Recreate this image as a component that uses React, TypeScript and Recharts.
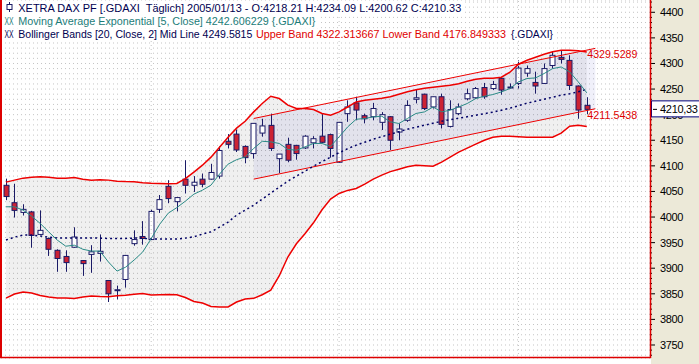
import {
  Area,
  Bar,
  CartesianGrid,
  ComposedChart,
  Line,
  ReferenceDot,
  ReferenceLine,
  XAxis,
  YAxis,
} from 'recharts';

// XETRA DAX daily, 2004/10/07 .. 2005/01/13
const dates = [
  '2004-10-07', '2004-10-08', '2004-10-11', '2004-10-12', '2004-10-13', '2004-10-14', '2004-10-15',
  '2004-10-18', '2004-10-19', '2004-10-20', '2004-10-21', '2004-10-22', '2004-10-25', '2004-10-26',
  '2004-10-27', '2004-10-28', '2004-10-29',
  '2004-11-01', '2004-11-02', '2004-11-03', '2004-11-04', '2004-11-05', '2004-11-08', '2004-11-09',
  '2004-11-10', '2004-11-11', '2004-11-12', '2004-11-15', '2004-11-16', '2004-11-17', '2004-11-18',
  '2004-11-19', '2004-11-22', '2004-11-23', '2004-11-24', '2004-11-25', '2004-11-26', '2004-11-29',
  '2004-11-30',
  '2004-12-01', '2004-12-02', '2004-12-03', '2004-12-06', '2004-12-07', '2004-12-08', '2004-12-09',
  '2004-12-10', '2004-12-13', '2004-12-14', '2004-12-15', '2004-12-16', '2004-12-17', '2004-12-20',
  '2004-12-21', '2004-12-22', '2004-12-23', '2004-12-27', '2004-12-28', '2004-12-29', '2004-12-30',
  '2005-01-03', '2005-01-04', '2005-01-05', '2005-01-06', '2005-01-07', '2005-01-10', '2005-01-11',
  '2005-01-12', '2005-01-13',
];

const opens = [
  4062, 4028, 4009, 4010, 3966, 3958, 3935, 3923, 3941, 3915,
  3927, 3929, 3876, 3857, 3878, 3948, 3962, 3956, 4015, 4060,
  4030, 4074, 4062, 4074, 4074, 4080, 4148, 4162, 4138, 4124,
  4164, 4179, 4114, 4142, 4140, 4135, 4145, 4158, 4161, 4107,
  4202, 4223, 4198, 4196, 4185, 4196, 4166, 4189, 4230, 4240,
  4215, 4235, 4177, 4202, 4231, 4233, 4253, 4251, 4271, 4252,
  4261, 4281, 4263, 4261, 4296, 4312, 4306, 4256, 4218.21,
];
const highs = [
  4075, 4065, 4025, 4012, 4013, 3960, 3937, 3935, 3980, 3916,
  3945, 3966, 3877, 3866, 3926, 3974, 3992, 4015, 4043, 4072,
  4039, 4111, 4080, 4085, 4104, 4138, 4162, 4171, 4140, 4183,
  4192, 4202, 4123, 4155, 4141, 4160, 4158, 4201, 4163, 4186,
  4228, 4235, 4202, 4223, 4205, 4197, 4183, 4228, 4249, 4241,
  4235, 4241, 4228, 4222, 4251, 4254, 4262, 4266, 4272, 4261,
  4306, 4296, 4284, 4300, 4324, 4326, 4316, 4257, 4234.09,
];
const lows = [
  4033, 3999, 4003, 3940, 3965, 3924, 3893, 3893, 3940, 3885,
  3891, 3913, 3834, 3839, 3862, 3944, 3946, 3955, 4008, 4027,
  4011, 4046, 4049, 4058, 4073, 4075, 4134, 4127, 4105, 4114,
  4157, 4129, 4086, 4107, 4112, 4133, 4134, 4145, 4116, 4106,
  4186, 4189, 4183, 4189, 4170, 4131, 4150, 4186, 4222, 4209,
  4212, 4173, 4175, 4199, 4228, 4231, 4231, 4248, 4239, 4251,
  4251, 4274, 4241, 4260, 4290, 4300, 4248, 4192, 4200.62,
];
const closes = [
  4040, 4013, 4015, 3964, 3974, 3937, 3919, 3911, 3961, 3909,
  3932, 3933, 3850, 3858, 3925, 3956, 3958, 4011, 4034, 4036,
  4038, 4062, 4068, 4064, 4087, 4130, 4142, 4131, 4116, 4183,
  4178, 4134, 4123, 4111, 4124, 4158, 4153, 4146, 4134, 4185,
  4215, 4209, 4192, 4212, 4200, 4150, 4172, 4218, 4233, 4212,
  4235, 4181, 4210, 4215, 4241, 4251, 4235, 4259, 4248, 4254,
  4291, 4290, 4256, 4290, 4316, 4308, 4257, 4209, 4210.33,
];

// indicator values
const ema5 = [
  4020, 4020, 4013.5, 4001.8, 3987.5, 3971, 3955, 3943, 3945, 3937,
  3933.5, 3933.5, 3912, 3894.4, 3902, 3916, 3931.5, 3958, 3986, 4007.6,
  4018.4, 4031, 4044.7, 4052.5, 4062.3, 4083.8, 4103.3, 4112, 4117.5, 4134,
  4148, 4146.8, 4143.7, 4132, 4130.6, 4137, 4143.7, 4143.7, 4138, 4156.6,
  4176, 4191, 4192.5, 4195.6, 4197, 4186, 4182.7, 4192.5, 4202.3, 4205.4,
  4215, 4205.4, 4208.7, 4215, 4221.8, 4231.5, 4236, 4239.3, 4244.4, 4251,
  4264, 4270.6, 4271.8, 4280.3, 4290, 4293.2, 4283.5, 4264, 4242.61,
];
const bbMid = [
  3955, 3960.8, 3964.7, 3964.7, 3962.8, 3960.8, 3958.8, 3958.8, 3958.8, 3958.8,
  3958.8, 3958.8, 3958.2, 3958.2, 3958.2, 3958.8, 3958.8, 3956.9, 3956.9, 3956.9,
  3956.9, 3958.8, 3961.4, 3966.7, 3971, 3980.3, 3990, 4003.7, 4013.5, 4023.3,
  4035, 4046.7, 4058.4, 4070, 4080, 4089.6, 4099.4, 4108.2, 4117, 4125.7,
  4133.6, 4140.4, 4146.2, 4152.1, 4157, 4161.9, 4166.7, 4171.6, 4175.5, 4179.4,
  4183.3, 4187.2, 4190.2, 4193.1, 4196, 4198.9, 4201.9, 4204.8, 4208.7, 4212.6,
  4217.5, 4222.4, 4226.3, 4230.2, 4234.1, 4238, 4240.9, 4244.8, 4249.58,
];
const bbUpper = [
  4068.2, 4072.1, 4076, 4077.9, 4078.9, 4077.9, 4076, 4076, 4077, 4074,
  4072.1, 4073, 4072.1, 4070.1, 4069.2, 4068.8, 4067.2, 4066.2, 4065.6, 4065.2,
  4065.6, 4075, 4087.7, 4101.3, 4117, 4136.5, 4156, 4173.6, 4187.2, 4205.4,
  4221.8, 4236, 4231.5, 4218.5, 4212, 4212, 4210.1, 4202.3, 4198.9, 4205.4,
  4215, 4224.9, 4228.2, 4230.2, 4232.1, 4235.1, 4239.9, 4244.8, 4248.7, 4251.6,
  4253.6, 4255.6, 4257.5, 4260.4, 4265.3, 4269.2, 4271.2, 4271.2, 4273.1, 4282.9,
  4298.5, 4306.3, 4312.2, 4318, 4322.9, 4325.8, 4325.8, 4324.8, 4322.31,
];
const bbLower = [
  3841.7, 3849.5, 3853.4, 3851.5, 3846.6, 3843.7, 3841.7, 3841.7, 3840.7, 3843.7,
  3845.6, 3844.6, 3844.4, 3846.4, 3847.4, 3849, 3850.5, 3847.6, 3848.2, 3848.6,
  3848.2, 3842.7, 3835.1, 3832, 3825.3, 3824.2, 3824.2, 3833.9, 3839.8, 3841.1,
  3848.2, 3857.3, 3885.3, 3921.8, 3947.7, 3967.2, 3988.7, 4014.1, 4035, 4046.1,
  4052, 4055.9, 4064.3, 4074, 4081.8, 4088.7, 4093.5, 4098.4, 4101.3, 4100.4,
  4099.4, 4107.2, 4117, 4126.7, 4134.5, 4142.3, 4150.1, 4156, 4158, 4158,
  4157, 4156, 4156, 4156, 4156, 4163.8, 4177.5, 4179.4, 4176.85,
];

// trend channel drawn by hand on the chart (bar index -> price)
const channelX = [29, 69];
const channelUpper = [4192.5, 4329.5289];
const channelLower = [4074, 4211.5438];

const priceTicks = [3750, 3800, 3850, 3900, 3950, 4000, 4050, 4100, 4150, 4200, 4250, 4300, 4350, 4400];
const monthStarts = ['2004-11-01', '2004-12-01', '2005-01-03'];
const lastClose = 4210.33;

const NAVY = '#1a1a66';
const CANDLE_RED = '#cc2233';
const BAND_RED = '#ee0000';
const EMA_TEAL = '#2a8a86';
const GRID = '#c4c4c4';
const FONT = '"Liberation Sans", Arial, sans-serif';

const rows = dates.map((date, i) => ({
  i,
  date,
  open: opens[i],
  high: highs[i],
  low: lows[i],
  close: closes[i],
  ema: ema5[i],
  mid: bbMid[i],
  upper: bbUpper[i],
  lower: bbLower[i],
  band: [bbLower[i], bbUpper[i]],
}));
const channelRows = channelX.map((x, k) => ({ i: x, channel: [channelLower[k], channelUpper[k]] }));
const gridX = monthStarts.map((d) => dates.indexOf(d));

// small marks every 10 points on the price scale, labels every 50,
// the last-price box goes last so it sits on top of the labels
const scaleMarks: number[] = [];
for (let v = 3730; v <= 4420; v += 10) scaleMarks.push(v);
scaleMarks.push(lastClose);

const Candle = (props: any) => {
  const { x, y, width, height, payload } = props;
  const { open, close, high, low } = payload;
  const perUnit = height / Math.max(high - low, 0.0001);
  const yOf = (v: number) => y + (high - v) * perUnit;
  const cx = Math.round(x + width / 2) + 0.5;
  const top = yOf(Math.max(open, close));
  const bottom = yOf(Math.min(open, close));
  const up = close >= open;
  return (
    <g>
      <line x1={cx} x2={cx} y1={y} y2={y + height} stroke={NAVY} strokeWidth={1} />
      <rect
        x={cx - 2.5}
        y={top}
        width={5}
        height={Math.max(bottom - top, 1)}
        fill={up ? '#ffffff' : CANDLE_RED}
        stroke={NAVY}
        strokeWidth={1}
      />
    </g>
  );
};

const PriceTick = ({ x, y, payload }: any) => {
  const v = payload.value;
  if (v === lastClose) {
    return (
      <g>
        <rect x={x + 1.5} y={y - 8.5} width={52} height={16} fill="#ffffff" stroke="#000080" />
        <line x1={x + 3} x2={x + 7} y1={y} y2={y} stroke="#000" />
        <text x={x + 10} y={y + 4} fontFamily={FONT} fontSize={11} letterSpacing={-0.3} fill="#000">
          {v.toFixed(2).replace('.', ',')}
        </text>
      </g>
    );
  }
  const major = priceTicks.includes(v);
  return (
    <g>
      <line x1={x + 1} x2={x + (major ? 5 : 2)} y1={y} y2={y} stroke="#000" />
      {major && (
        <text x={x + 10} y={y + 4} fontFamily={FONT} fontSize={11} letterSpacing={-0.4} fill="#000">
          {v}
        </text>
      )}
    </g>
  );
};

const ChannelLabel = ({ viewBox, value }: any) => (
  <text
    x={viewBox.x - 8}
    y={viewBox.y + 10}
    fontFamily={FONT}
    fontSize={11}
    fill="#dd0000"
    textLength={50}
    lengthAdjust="spacingAndGlyphs"
  >
    {value}
  </text>
);

export default function App() {
  return (
    <div style={{ position: 'absolute', left: 0, top: 0, width: 699, height: 364, background: '#fff' }}>
      <div style={{ position: 'absolute', left: 651, top: 0, width: 48, height: 364, background: '#ece9d8' }} />
      <div style={{ position: 'absolute', left: 0, top: 0 }}>
        <ComposedChart width={699} height={364} data={rows} margin={{ top: 0, right: 0, bottom: 6, left: 1 }}>
          <XAxis
            dataKey="i"
            type="number"
            domain={[-0.585, 75.4]}
            ticks={gridX}
            allowDataOverflow
            hide
          />
          <YAxis
            orientation="right"
            width={49}
            domain={[3724.6, 4424]}
            allowDataOverflow
            ticks={scaleMarks}
            interval={0}
            tick={<PriceTick />}
            tickSize={0}
            tickMargin={0}
            axisLine={false}
            tickLine={false}
          />
          <Area
            dataKey="band"
            stroke="none"
            fill="#000000"
            fillOpacity={0.06}
            isAnimationActive={false}
          />
          <Area
            data={channelRows}
            dataKey="channel"
            stroke="none"
            fill="#3c3cbe"
            fillOpacity={0.08}
            isAnimationActive={false}
          />
          <CartesianGrid stroke={GRID} strokeDasharray="1 3" vertical={false} />
          {gridX.map((x) => (
            <ReferenceLine key={x} x={x} stroke={GRID} strokeDasharray="1 3" />
          ))}
          <ReferenceLine
            segment={[
              { x: channelX[0], y: channelUpper[0] },
              { x: channelX[1], y: channelUpper[1] },
            ]}
            stroke={BAND_RED}
            strokeWidth={1}
          />
          <ReferenceLine
            segment={[
              { x: channelX[0], y: channelLower[0] },
              { x: channelX[1], y: channelLower[1] },
            ]}
            stroke={BAND_RED}
            strokeWidth={1}
          />
          <Line dataKey="upper" stroke={BAND_RED} strokeWidth={1.5} dot={false} activeDot={false} isAnimationActive={false} />
          <Line dataKey="lower" stroke={BAND_RED} strokeWidth={1.5} dot={false} activeDot={false} isAnimationActive={false} />
          <Line
            dataKey="mid"
            stroke="#000066"
            strokeWidth={1.5}
            strokeDasharray="2 3"
            dot={false}
            activeDot={false}
            isAnimationActive={false}
          />
          <Line dataKey="ema" stroke={EMA_TEAL} strokeWidth={1} dot={false} activeDot={false} isAnimationActive={false} />
          <Bar
            dataKey={(d: any) => [d.low, d.high]}
            barSize={6}
            shape={<Candle />}
            isAnimationActive={false}
          />
          <ReferenceDot
            x={channelX[1]}
            y={channelUpper[1]}
            r={0}
            fill="none"
            stroke="none"
            label={<ChannelLabel value={channelUpper[1].toFixed(4)} />}
          />
          <ReferenceDot
            x={channelX[1]}
            y={channelLower[1]}
            r={0}
            fill="none"
            stroke="none"
            label={<ChannelLabel value={channelLower[1].toFixed(4)} />}
          />
        </ComposedChart>
      </div>
      <svg
        width={699}
        height={364}
        style={{ position: 'absolute', left: 0, top: 0, pointerEvents: 'none' }}
        fontFamily={FONT}
        fontSize={10.5}
      >
        {/* legend rows */}
        <rect x={2} y={1} width={461} height={13} fill="#fff" />
        <rect x={2} y={15} width={316} height={13} fill="#fff" />
        <rect x={2} y={29} width={555} height={12} fill="#fff" />
        <line x1={9.5} x2={9.5} y1={2} y2={12} stroke={NAVY} />
        <rect x={7} y={4.5} width={5} height={5} fill="#fff" stroke={NAVY} />
        <text x={18.3} y={11.5} fill="#000050" textLength={443} lengthAdjust="spacingAndGlyphs" style={{ whiteSpace: 'pre' }}>
          XETRA DAX PF [.GDAXI  Täglich] 2005/01/13 - O:4218.21 H:4234.09 L:4200.62 C:4210.33
        </text>
        <text x={4.5} y={24.7} fill="#1b7c78" textLength={9} lengthAdjust="spacingAndGlyphs">XX</text>
        <text x={18.3} y={24.7} fill="#1b7c78" textLength={297} lengthAdjust="spacingAndGlyphs">
          Moving Average Exponential [5, Close] 4242.606229 {'{.GDAXI}'}
        </text>
        <text x={4.5} y={38.3} fill="#000050" textLength={9} lengthAdjust="spacingAndGlyphs">XX</text>
        <text x={18.3} y={38.3} fill="#000050" textLength={234} lengthAdjust="spacingAndGlyphs">
          Bollinger Bands [20, Close, 2] Mid Line 4249.5815
        </text>
        <text x={256} y={38.3} fill="#e00000" textLength={250} lengthAdjust="spacingAndGlyphs">
          Upper Band 4322.313667 Lower Band 4176.849333
        </text>
        <text x={511} y={38.3} fill="#000050" textLength={42} lengthAdjust="spacingAndGlyphs">
          {'{.GDAXI}'}
        </text>
        {/* panel frame */}
        <line x1={1} x2={1} y1={0} y2={358} stroke="#dd0000" strokeWidth={2} />
        <line x1={650.5} x2={650.5} y1={0} y2={358} stroke="#dd0000" strokeWidth={1.5} />
        <line x1={0} x2={651} y1={357.5} y2={357.5} stroke="#dd0000" strokeWidth={1.5} />
      </svg>
    </div>
  );
}
